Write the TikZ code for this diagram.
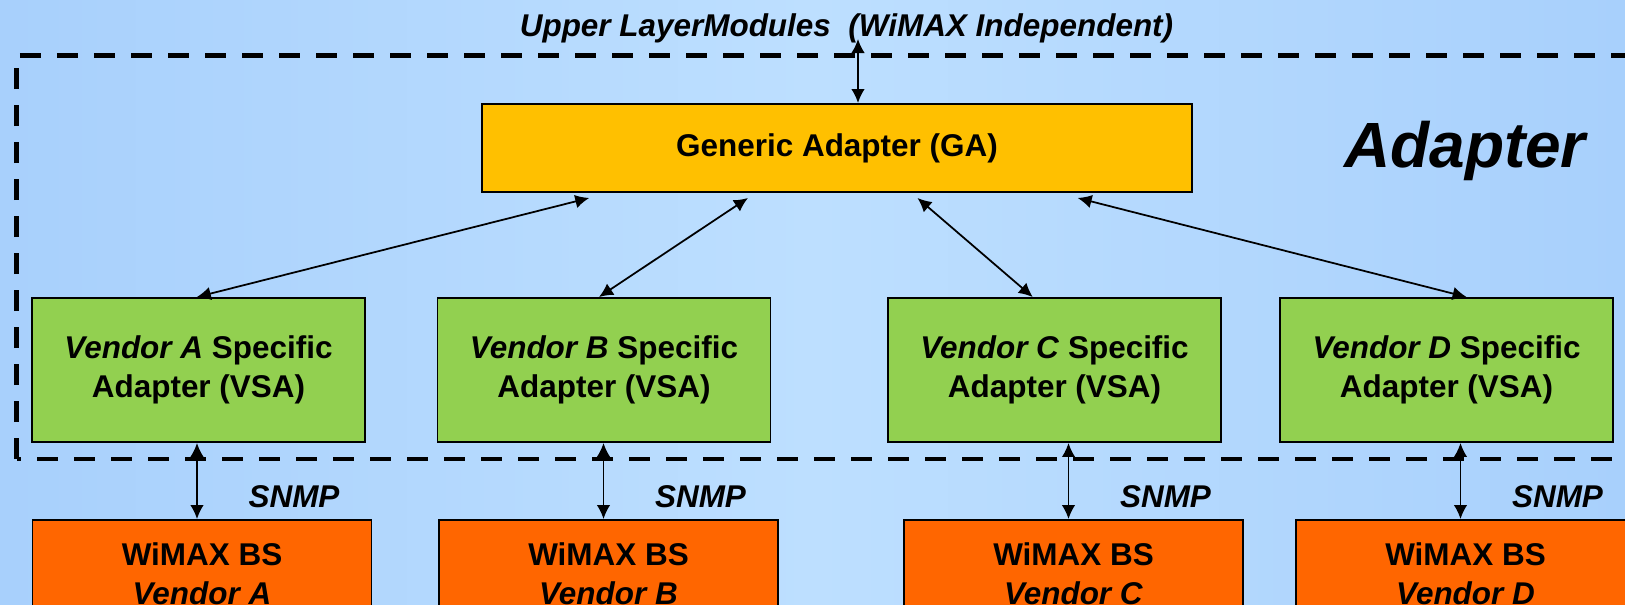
\documentclass[tikz,border=0pt]{standalone}
\usepackage{fontspec}
\setmainfont{Liberation Sans}
\usetikzlibrary{arrows.meta,positioning,calc}
\definecolor{bgblue}{RGB}{189,223,255}
\definecolor{bgedge}{RGB}{168,208,252}
\definecolor{gayellow}{RGB}{255,192,0}
\definecolor{vsagreen}{RGB}{146,208,80}
\definecolor{bsorange}{RGB}{255,102,0}

\begin{document}
\begin{tikzpicture}[
  font=\fontsize{17.9}{22.4}\selectfont\bfseries,
  box/.style={draw=black,line width=1.1pt,align=center,inner sep=0pt},
  link/.style={{Latex[length=2.8mm,width=2.7mm]}-{Latex[length=2.8mm,width=2.7mm]},line width=1pt},
  border/.style={line width=2.6pt,dash pattern=on 4.2mm off 3.2mm},
  lbl/.style={font=\fontsize{17.9}{22.4}\selectfont\bfseries\itshape}
]
\clip (0,0) rectangle (32.5,12.08);
\shade[left color=bgedge,right color=bgedge,middle color=bgblue] (0,0) rectangle (32.5,12.08);

% adapter layer
\draw[border] (0.33,2.9) rectangle (33,10.97);
\node[anchor=base,lbl] (upper) at (16.93,11.35) {Upper LayerModules\ \ (WiMAX Independent)};
\node[box,fill=gayellow,minimum width=14.2cm,minimum height=1.76cm] (ga) at (16.74,9.12) {Generic Adapter (GA)};
\node[anchor=base,font=\fontsize{36.4}{40}\selectfont\bfseries\itshape] (adapter) at (29.3,8.74) {Adapter};
\coordinate (top) at (17.16,11.3);
\draw[link] (top) -- (top |- ga.north);

% vendors
\foreach \vn/\vx/\bx/\gf/\vf in {A/3.97/4.04/0.152/0.495, B/12.08/12.17/0.375/0.485, C/21.09/21.47/0.613/0.435, D/28.93/29.31/0.838/0.56} {
  \node[box,fill=vsagreen,minimum width=6.66cm,minimum height=2.88cm] (vsa\vn) at (\vx,4.68) {\textit{Vendor \vn} Specific\\Adapter (VSA)};
  \node[box,fill=bsorange,minimum width=6.78cm,minimum height=2.16cm] (bs\vn) at (\bx,0.6) {WiMAX BS\\\textit{Vendor \vn}};
  \draw[link] ($(ga.south west)!\gf!(ga.south east)+(0,-0.1)$) -- ($(vsa\vn.north west)!\vf!(vsa\vn.north east)$);
  \draw[link] ($(vsa\vn.south -| bs\vn.north)+(-0.1,0)$) -- ($(bs\vn.north)+(-0.1,0)$);
  \node[anchor=base,lbl] (snmp\vn) at ($(bs\vn.north)+(1.84,0.24)$) {SNMP};
}
\end{tikzpicture}
\end{document}
